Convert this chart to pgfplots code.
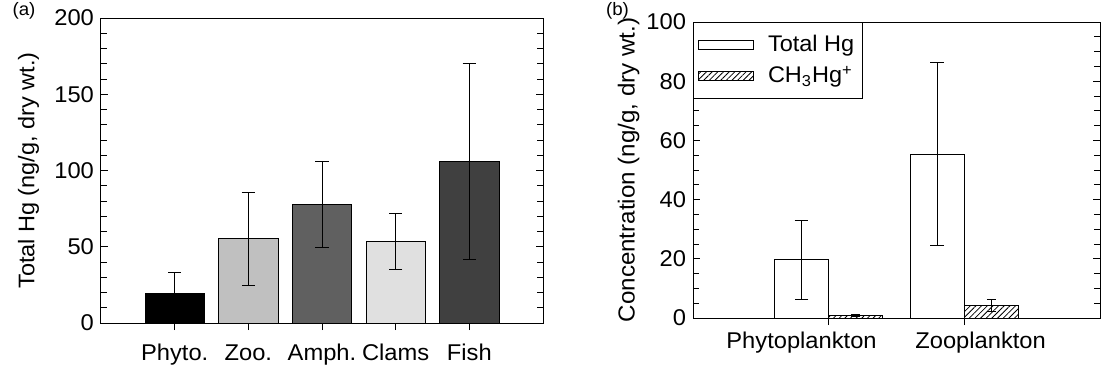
\documentclass[border=0pt]{standalone}
\usepackage{fontspec}
\setmainfont{Liberation Sans}[FakeStretch=1.04]
\usepackage{pgfplots}
\pgfplotsset{compat=1.18}
\usetikzlibrary{patterns.meta}
\definecolor{cZoo}{RGB}{192,192,192}
\definecolor{cAmph}{RGB}{96,96,96}
\definecolor{cClam}{RGB}{224,224,224}
\definecolor{cFish}{RGB}{64,64,64}
\begin{document}
\begin{tikzpicture}
\pgfplotsset{
  common/.style={
    scale only axis,
    axis line style={line width=0.5pt, black},
    tick style={black, line width=0.5pt},
    ytick align=inside,
    xtick align=outside,
    ytick pos=both,
    xtick pos=lower,
    major tick length=3.5pt,
    minor tick length=3pt,
    tick label style={font=\fontsize{11.4}{13}\selectfont},
    /pgf/number format/assume math mode=true,
    xticklabel style={anchor=base, yshift=-15pt},
    ybar,
    error bars/error bar style={line width=0.5pt, black},
  }
}
\begin{axis}[common, at={(0pt,0pt)}, anchor=south west,
  width=221pt, height=152.5pt,
  xmin=0, xmax=6, ymin=0, ymax=200,
  ytick={0,50,...,200}, minor y tick num=4,
  xtick={1,2,3,4,5}, xticklabels={Phyto.,Zoo.,Amph.,Clams,Fish},
  bar width=0.805,
  every axis y label/.style={at={([xshift=-36.25pt]rel axis cs:0,0.5)}, rotate=90, anchor=center, font=\fontsize{11.3}{13}\selectfont},
  ylabel={Total Hg (ng/g, dry wt.)},
]
\addplot[fill=black, draw=black, line width=0.4pt, bar shift=0,
  error bars/.cd, y dir=both, y explicit, error mark options={rotate=90, mark size=3.3pt, line width=0.5pt, black}]
  coordinates {(1,19.7) +- (0,13.1)};
\addplot[fill=cZoo, draw=black, line width=0.4pt, bar shift=0,
  error bars/.cd, y dir=both, y explicit, error mark options={rotate=90, mark size=3.3pt, line width=0.5pt, black}]
  coordinates {(2,55.2) +- (0,30.6)};
\addplot[fill=cAmph, draw=black, line width=0.4pt, bar shift=0,
  error bars/.cd, y dir=both, y explicit, error mark options={rotate=90, mark size=3.3pt, line width=0.5pt, black}]
  coordinates {(3,77.9) +- (0,28.2)};
\addplot[fill=cClam, draw=black, line width=0.4pt, bar shift=0,
  error bars/.cd, y dir=both, y explicit, error mark options={rotate=90, mark size=3.3pt, line width=0.5pt, black}]
  coordinates {(4,53.4) +- (0,18.3)};
\addplot[fill=cFish, draw=black, line width=0.4pt, bar shift=0,
  error bars/.cd, y dir=both, y explicit, error mark options={rotate=90, mark size=3.3pt, line width=0.5pt, black}]
  coordinates {(5,106.0) +- (0,64.1)};
\end{axis}

\begin{axis}[common, at={(296pt,2.5pt)}, anchor=south west,
  width=203.5pt, height=148pt,
  xmin=0, xmax=3, ymin=0, ymax=100,
  ytick={0,20,...,100}, minor y tick num=3,
  xtick={1,2}, xticklabels={,},
  extra x ticks={0.8,2.12}, extra x tick labels={Phytoplankton,Zooplankton},
  extra x tick style={major tick length=0pt},
  bar width=0.4,
  every axis y label/.style={at={([xshift=-32.25pt]rel axis cs:0,0.5)}, rotate=90, anchor=center, font=\fontsize{11.6}{13}\selectfont},
  ylabel={Concentration (ng/g, dry wt.)},
  legend style={at={(0,1)}, anchor=north west, draw=black, fill=white, line width=0.5pt,
    font=\fontsize{11.3}{13}\selectfont, inner xsep=2pt, inner ysep=4.5pt, row sep=1.5pt,
    cells={anchor=west}, row 2 column 2/.style={text depth=7pt}},
  legend image code/.code={\draw[#1, line width=0.5pt] (0pt,-2.25pt) rectangle (27.5pt,2.25pt); \path[draw=none, fill=none] (0pt,0pt) -- (33pt,0pt);},
]
\addplot[fill=white, draw=black, line width=0.5pt, bar shift=-0.2,
  error bars/.cd, y dir=both, y explicit, error mark options={rotate=90, mark size=3.4pt, line width=0.5pt, black}]
  coordinates {(1,19.7) +- (0,13.4) (2,55.4) +- (0,30.9)};
\addlegendentry{Total Hg\hspace{2.5pt}}
\addplot[pattern={Lines[angle=45, distance=2pt, line width=0.4pt]}, pattern color=black, draw=black, line width=0.5pt, bar shift=0.2,
  error bars/.cd, y dir=both, y explicit, error mark options={rotate=90, mark size=2.3pt, line width=0.5pt, black}]
  coordinates {(1,0.9) +- (0,0.45) (2,4.3) +- (0,2.0)};
\addlegendentry{CH\textsubscript{3}Hg\textsuperscript{+}}
\end{axis}

\node[font=\fontsize{9}{10}\selectfont] at (-38.5pt,156pt) {(a)};
\node[font=\fontsize{9}{10}\selectfont] at (258.25pt,156pt) {(b)};
\pgfresetboundingbox
\useasboundingbox (-50.5pt,-24pt) rectangle (505pt,161.5pt);
\end{tikzpicture}
\end{document}
